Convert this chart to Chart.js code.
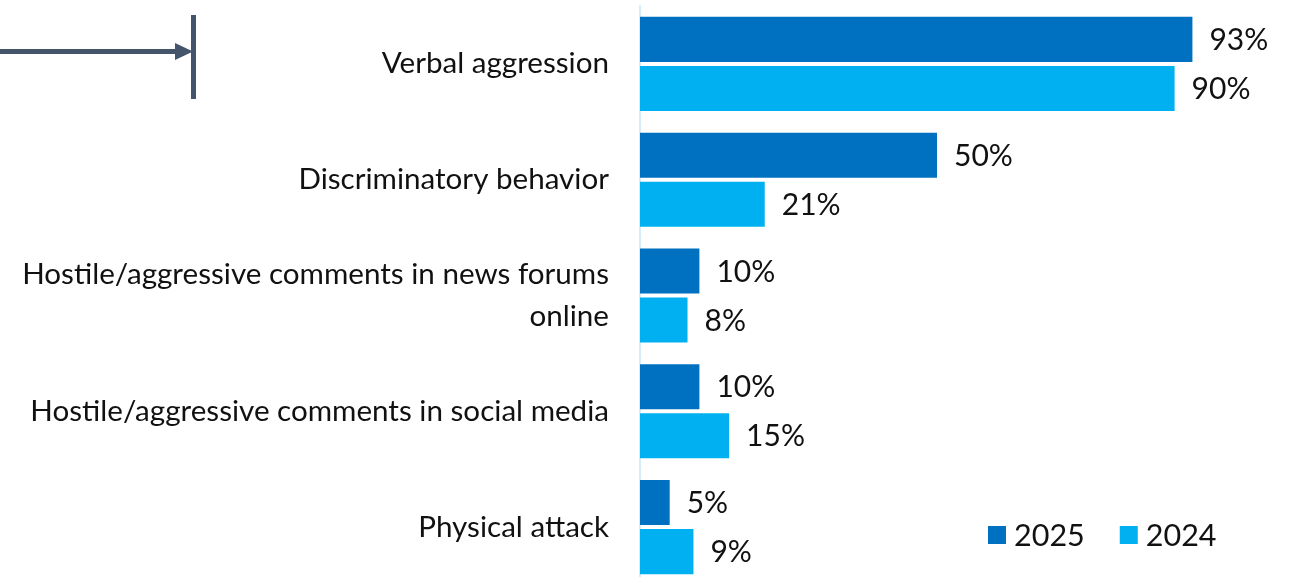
<!DOCTYPE html>
<html>
<head>
<meta charset="utf-8">
<script src="https://cdn.jsdelivr.net/npm/chart.js@4"></script>
<style>
  html, body { margin: 0; padding: 0; background: #fff; overflow: hidden; }
  #wrap { position: relative; width: 1299px; height: 592px; }
</style>
</head>
<body>
<div id="wrap"><canvas id="c"></canvas></div>
<script>
const categories = [
  "Verbal aggression",
  "Discriminatory behavior",
  ["Hostile/aggressive comments in news forums", "online"],
  "Hostile/aggressive comments in social media",
  "Physical attack"
];
const seriesNames = ["2025", "2024"];
const values2025 = [93, 50, 10, 10, 5];
const values2024 = [90, 21, 8, 15, 9];
const seriesColors = ["#0070C0", "#00B0F0"];

const FONT = "Lato, 'Open Sans', sans-serif";

const valueLabels = {
  id: 'valueLabels',
  afterDatasetsDraw(chart) {
    const ctx = chart.ctx;
    ctx.save();
    ctx.font = "30px " + FONT;
    ctx.fillStyle = "#111";
    ctx.textBaseline = "middle";
    ctx.textAlign = "left";
    chart.data.datasets.forEach((ds, i) => {
      chart.getDatasetMeta(i).data.forEach((bar, j) => {
        ctx.fillText(ds.data[j] + "%", bar.x + 17, bar.y + 1);
      });
    });
    ctx.restore();
  }
};

const customLegend = {
  id: 'customLegend',
  afterDraw(chart) {
    const ctx = chart.ctx;
    ctx.save();
    ctx.font = "30.5px " + FONT;
    ctx.textBaseline = "middle";
    ctx.textAlign = "left";
    const y = 535;
    let x = 988;
    chart.data.datasets.forEach((ds) => {
      ctx.fillStyle = ds.backgroundColor;
      ctx.fillRect(x, y - 9, 18, 18);
      ctx.fillStyle = "#111";
      ctx.fillText(ds.label, x + 26, y + 1);
      x += 26 + ctx.measureText(ds.label).width + 35;
    });
    ctx.restore();
  }
};

const arrowDecor = {
  id: 'arrowDecor',
  afterDraw(chart) {
    const ctx = chart.ctx;
    ctx.save();
    ctx.fillStyle = "#44546A";
    ctx.fillRect(0, 49, 178, 5);
    ctx.beginPath();
    ctx.moveTo(175, 43);
    ctx.lineTo(193, 51.5);
    ctx.lineTo(175, 60);
    ctx.closePath();
    ctx.fill();
    ctx.fillRect(191, 15, 5, 84);
    ctx.restore();
  }
};

new Chart(document.getElementById('c'), {
  type: 'bar',
  data: {
    labels: categories,
    datasets: [
      { label: seriesNames[0], data: values2025, backgroundColor: seriesColors[0],
        borderWidth: 0, categoryPercentage: 0.847, barPercentage: 0.918 },
      { label: seriesNames[1], data: values2024, backgroundColor: seriesColors[1],
        borderWidth: 0, categoryPercentage: 0.847, barPercentage: 0.918 }
    ]
  },
  options: {
    indexAxis: 'y',
    responsive: true,
    maintainAspectRatio: false,
    animation: false,
    layout: { padding: { top: 6, bottom: 7, left: 0, right: 65 } },
    plugins: { legend: { display: false }, tooltip: { enabled: false } },
    scales: {
      x: { display: false, min: 0, max: 100 },
      y: {
        afterFit(scale) { scale.width = 640; scale.paddingTop = 0; scale.paddingBottom = 0; },
        grid: { display: false, drawTicks: false },
        border: { display: true, color: "#D6ECF8", width: 2 },
        ticks: { color: "#111", padding: 31, font: { family: FONT, size: 29.6, lineHeight: 1.4 } }
      }
    }
  },
  plugins: [valueLabels, customLegend, arrowDecor]
});
</script>
</body>
</html>
